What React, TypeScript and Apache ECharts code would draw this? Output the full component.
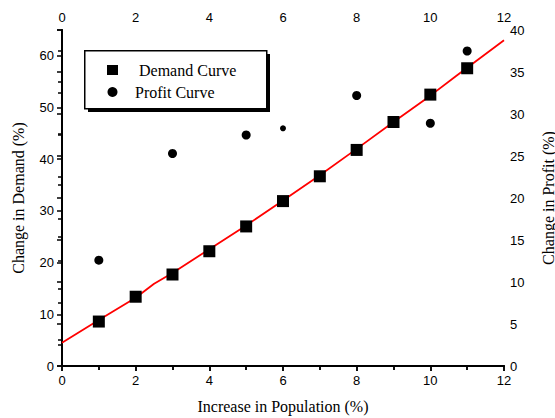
import React, { useEffect, useRef } from "react";
import * as echarts from "echarts";

const populationX = [1, 2, 3, 4, 5, 6, 7, 8, 9, 10, 11];
const demandValues = [8.6, 13.4, 17.7, 22.2, 27.0, 31.9, 36.7, 41.8, 47.2, 52.5, 57.6];
const profitValues = [12.6, 25.3, 27.5, 28.3, 32.2, 28.9, 37.5];
const profitX = [1, 3, 5, 6, 8, 10, 11];
const fitX = [0, 1, 2, 2.5, 3, 4, 5, 6, 7, 8, 9, 10, 10.7, 12];
const fitY = [4.5, 8.9, 13.2, 15.9, 18.0, 22.6, 27.2, 32.0, 36.9, 42.0, 47.2, 52.3, 56.1, 63.0];

const SANS = "'Liberation Sans', Arial, sans-serif";
const SERIF = "'Liberation Serif', 'Times New Roman', serif";

export default function App() {
  const ref = useRef<HTMLDivElement>(null);
  useEffect(() => {
    if (!ref.current) return;
    const chart = echarts.init(ref.current, undefined, { renderer: "svg" });
    const axisLine = { show: true, lineStyle: { color: "#000", width: 2 } };
    const label = { color: "#000", fontFamily: SANS, fontSize: 13 };
    const nameStyle = { color: "#000", fontFamily: SERIF, fontSize: 16 };
    chart.setOption({
      animation: false,
      backgroundColor: "#fff",
      grid: { left: 62, right: 51, top: 30, bottom: 52, containLabel: false, outerBoundsMode: "none" },
      legend: {
        orient: "vertical",
        left: 102,
        top: 57,
        itemGap: 6,
        itemWidth: 11,
        itemHeight: 10,
        selectedMode: false,
        textStyle: { color: "#000", fontFamily: SERIF, fontSize: 16 },
        data: [
          { name: "Demand Curve", icon: "rect", itemStyle: { color: "#000", opacity: 1 }, textStyle: { padding: [0, 0, 0, 16] } },
          { name: "Profit Curve", icon: "circle", itemStyle: { color: "#000", opacity: 1 }, textStyle: { padding: [0, 0, 0, 12] } },
        ],
        z: 10,
      },
      graphic: [
        { type: "rect", left: 88, top: 54, shape: { width: 182, height: 58 }, style: { fill: "#000" }, z: 5 },
        { type: "rect", left: 84, top: 50, shape: { width: 182, height: 58 }, style: { fill: "#fff", stroke: "#000", lineWidth: 1.5 }, z: 6 },
      ],
      xAxis: [
        {
          type: "value", position: "bottom", min: 0, max: 12, interval: 2,
          name: "Increase in Population (%)", nameLocation: "middle", nameGap: 32, nameTextStyle: nameStyle,
          axisLine, axisTick: { show: true, inside: false, length: 5, lineStyle: { color: "#000", width: 1.5 } },
          minorTick: { show: true, splitNumber: 2, length: 4, lineStyle: { color: "#000", width: 1.5 } },
          axisLabel: { ...label, margin: 8 }, splitLine: { show: false },
        },
        {
          type: "value", position: "top", min: 0, max: 12, interval: 2,
          axisLine, axisTick: { show: true, inside: true, length: 5, lineStyle: { color: "#000", width: 1.5 } },
          minorTick: { show: true, splitNumber: 2, length: 4, lineStyle: { color: "#000", width: 1.5 } },
          axisLabel: { ...label, margin: 6 }, splitLine: { show: false },
        },
      ],
      yAxis: [
        {
          type: "value", position: "left", min: 0, max: 65, interval: 10,
          name: "Change in Demand (%)", nameLocation: "middle", nameGap: 36, nameRotate: 90, nameTextStyle: nameStyle,
          axisLine, axisTick: { show: true, inside: false, length: 5, lineStyle: { color: "#000", width: 1.5 } },
          minorTick: { show: true, splitNumber: 2, length: 4, lineStyle: { color: "#000", width: 1.5 } },
          axisLabel: { ...label, margin: 8, showMaxLabel: false }, splitLine: { show: false },
        },
        {
          type: "value", position: "right", min: 0, max: 40, interval: 5,
          name: "Change in Profit (%)", nameLocation: "middle", nameGap: 36, nameRotate: 90, nameTextStyle: nameStyle,
          axisLine, axisTick: { show: true, inside: true, length: 5, lineStyle: { color: "#000", width: 1.5 } },
          minorTick: { show: true, splitNumber: 2, length: 4, lineStyle: { color: "#000", width: 1.5 } },
          axisLabel: { ...label, margin: 6 }, splitLine: { show: false },
        },
      ],
      series: [
        {
          name: "Fit", type: "line", xAxisIndex: 0, yAxisIndex: 0,
          data: fitX.map((x, i) => [x, fitY[i]]), showSymbol: false, symbol: "none",
          lineStyle: { color: "#ff0000", width: 1.8 }, z: 3,
        },
        {
          name: "Demand Curve", type: "scatter", xAxisIndex: 0, yAxisIndex: 0,
          data: populationX.map((x, i) => [x, demandValues[i]]), symbol: "rect", symbolSize: 12,
          itemStyle: { color: "#000", opacity: 1 }, z: 4,
        },
        {
          name: "Profit Curve", type: "scatter", xAxisIndex: 0, yAxisIndex: 1,
          data: profitX.map((x, i) => ({ value: [x, profitValues[i]], symbolSize: x === 6 ? 6 : 9 })),
          symbol: "circle", itemStyle: { color: "#000", opacity: 1 }, z: 4,
        },
      ],
    });
    return () => chart.dispose();
  }, []);
  return <div ref={ref} style={{ width: 555, height: 418, position: "absolute", left: 0, top: 0 }} />;
}
